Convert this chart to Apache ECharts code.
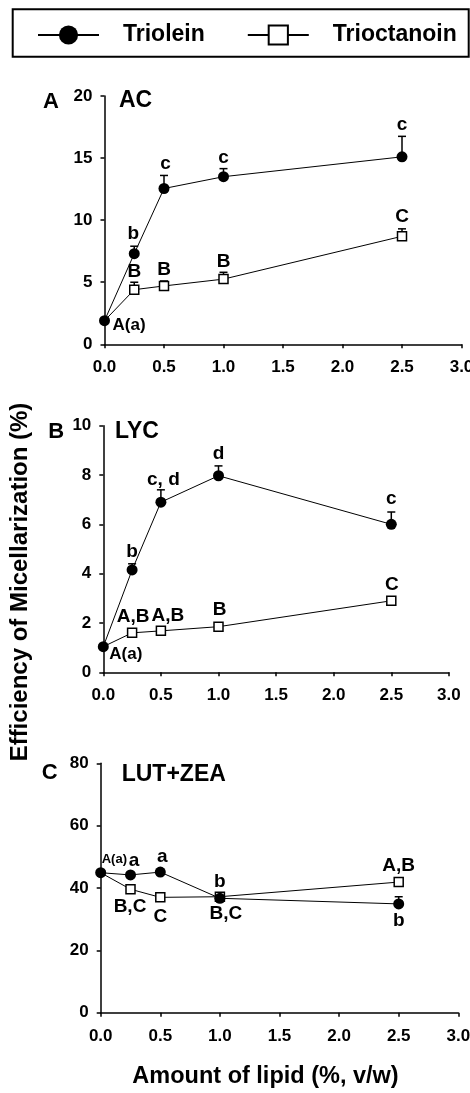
<!DOCTYPE html>
<html><head><meta charset="utf-8">
<script src="https://cdn.jsdelivr.net/npm/echarts@6/dist/echarts.min.js"></script>
<style>html,body{margin:0;padding:0;background:#fff}#c{width:470px;height:1093px}</style>
</head><body><div id="c"></div>
<script>
// ---------- data ----------
const lipid = [0, 0.25, 0.5, 1.0, 2.5];
const xTicks = ['0.0', '0.5', '1.0', '1.5', '2.0', '2.5', '3.0'];

// Panel A: AC
const acTriolein = [1.9, 7.3, 12.55, 13.5, 15.1];
const acTrioleinErr = [0, 0.6, 1.05, 0.65, 1.65];
const acTrioctanoin = [1.9, 4.4, 4.7, 5.25, 8.7];
const acTrioctanoinErr = [0, 0.6, 0.4, 0.55, 0.6];
const acTrioleinLabels = ['A(a)', 'b', 'c', 'c', 'c'];
const acTrioctanoinLabels = ['', 'B', 'B', 'B', 'C'];

// Panel B: LYC
const lycTriolein = [1.04, 4.15, 6.9, 7.97, 6.0];
const lycTrioleinErr = [0, 0.25, 0.5, 0.4, 0.5];
const lycTrioctanoin = [1.04, 1.6, 1.68, 1.85, 2.9];
const lycTrioctanoinErr = [0, 0, 0, 0, 0];
const lycTrioleinLabels = ['A(a)', 'b', 'c, d', 'd', 'c'];
const lycTrioctanoinLabels = ['', 'A,B', 'A,B', 'B', 'C'];

// Panel C: LUT+ZEA
const lutTriolein = [44.9, 44.2, 45.1, 36.7, 34.9];
const lutTrioleinErr = [0, 0, 0, 0, 2.3];
const lutTrioctanoin = [44.9, 39.6, 37.0, 37.2, 41.9];
const lutTrioctanoinErr = [0, 0, 0, 0, 0];
const lutTrioleinLabels = ['A(a)', 'a', 'a', 'b', 'b'];
const lutTrioctanoinLabels = ['', 'B,C', 'C', 'B,C', 'A,B'];

const panelLetters = ['A', 'B', 'C'];
const panelTitles = ['AC', 'LYC', 'LUT+ZEA'];
const yMax = [20, 10, 80];
const yStep = [5, 2, 20];

// ---------- styles / layout ----------
const FONT = "'Liberation Sans', Arial, Helvetica, sans-serif";
const grids = [
  { left: 104.5, top: 96, width: 357, height: 248.3 },
  { left: 103.3, top: 425.7, width: 345.6, height: 246.6 },
  { left: 100.7, top: 763.3, width: 357.6, height: 249.4 }
];
// the shared control point (0 %) is shown with the Triolein marker only
const octMarkerHidden = [true, false, false, false, false];
// label placement: from 'err' (top of error bar) or 'pt' (point), offsets in px
const placeA_tri = [
  { from: 'pt', dx: 8, dy: 5, align: 'left', size: 17 },
  { from: 'err', dx: -1, dy: -12 }, { from: 'err', dx: 1.5, dy: -12 },
  { from: 'err', dx: 0, dy: -11 }, { from: 'err', dx: 0, dy: -12 }
];
const placeA_oct = [
  null, { from: 'err', dx: 0, dy: -10 }, { from: 'err', dx: 0, dy: -11 },
  { from: 'err', dx: 0, dy: -11 }, { from: 'err', dx: 0, dy: -12 }
];
const placeB_tri = [
  { from: 'pt', dx: 6, dy: 7.5, align: 'left', size: 17 },
  { from: 'err', dx: 0, dy: -12 }, { from: 'err', dx: 2.5, dy: -10 },
  { from: 'err', dx: 0, dy: -12 }, { from: 'err', dx: 0, dy: -13 }
];
const placeB_oct = [
  null, { from: 'pt', dx: 1, dy: -16.5 }, { from: 'pt', dx: 7, dy: -15 },
  { from: 'pt', dx: 1, dy: -16.5 }, { from: 'pt', dx: 0.5, dy: -16.5 }
];
const placeC_tri = [
  { from: 'pt', dx: 1, dy: -13, align: 'left', size: 13 },
  { from: 'pt', dx: 3.5, dy: -14.5 }, { from: 'pt', dx: 2, dy: -15.5 },
  { from: 'pt', dx: 0, dy: -17 }, { from: 'pt', dx: 0, dy: 17 }
];
const placeC_oct = [
  null, { from: 'pt', dx: -0.5, dy: 17.5 }, { from: 'pt', dx: 0, dy: 19.5 },
  { from: 'pt', dx: 6, dy: 17.5 }, { from: 'pt', dx: 0, dy: -16 }
];

const panels = [
  { tri: acTriolein, triErr: acTrioleinErr, triLab: acTrioleinLabels, oct: acTrioctanoin, octErr: acTrioctanoinErr, octLab: acTrioctanoinLabels, pt: placeA_tri, po: placeA_oct },
  { tri: lycTriolein, triErr: lycTrioleinErr, triLab: lycTrioleinLabels, oct: lycTrioctanoin, octErr: lycTrioctanoinErr, octLab: lycTrioctanoinLabels, pt: placeB_tri, po: placeB_oct },
  { tri: lutTriolein, triErr: lutTrioleinErr, triLab: lutTrioleinLabels, oct: lutTrioctanoin, octErr: lutTrioctanoinErr, octLab: lutTrioctanoinLabels, pt: placeC_tri, po: placeC_oct }
];

function makeRender(labels, place) {
  return function (params, api) {
    const i = params.dataIndex;
    const x = api.value(0), y = api.value(1), e = api.value(2);
    const p = api.coord([x, y]);
    const t = api.coord([x, y + e]);
    const ch = [];
    if (e > 0) {
      ch.push({ type: 'line', shape: { x1: p[0], y1: p[1], x2: t[0], y2: t[1] }, style: { stroke: '#000', lineWidth: 1.5 } });
      ch.push({ type: 'line', shape: { x1: t[0] - 4, y1: t[1], x2: t[0] + 4, y2: t[1] }, style: { stroke: '#000', lineWidth: 1.5 } });
    }
    const pl = place[i];
    if (labels[i] && pl) {
      const a = pl.from === 'err' ? t : p;
      ch.push({
        type: 'text', x: a[0] + pl.dx, y: a[1] + pl.dy, z2: 10,
        style: { text: labels[i], fill: '#000', fontSize: pl.size || 19, fontWeight: 'bold', fontFamily: FONT, align: pl.align || 'center', verticalAlign: 'middle' }
      });
    }
    return { type: 'group', children: ch };
  };
}

const xAxis = [], yAxis = [], series = [];
panels.forEach((pn, k) => {
  xAxis.push({
    type: 'value', gridIndex: k, min: 0, max: 3, interval: 0.5,
    axisLine: { lineStyle: { color: '#000', width: 1.5 } },
    axisTick: { length: 4, lineStyle: { color: '#000', width: 1.5 } },
    splitLine: { show: false },
    axisLabel: { margin: 15, color: '#000', fontSize: 17, fontWeight: 'bold', fontFamily: FONT, formatter: v => xTicks[Math.round(v / 0.5)] }
  });
  yAxis.push({
    type: 'value', gridIndex: k, min: 0, max: yMax[k], interval: yStep[k],
    axisLine: { show: true, lineStyle: { color: '#000', width: 1.5 } },
    axisTick: { show: true, length: 4, lineStyle: { color: '#000', width: 1.5 } },
    splitLine: { show: false },
    axisLabel: { margin: 12, color: '#000', fontSize: 17, fontWeight: 'bold', fontFamily: FONT }
  });
  series.push({
    type: 'custom', xAxisIndex: k, yAxisIndex: k, z: 1, clip: false, silent: true,
    renderItem: makeRender(pn.octLab, pn.po),
    data: lipid.map((x, i) => [x, pn.oct[i], pn.octErr[i]])
  });
  series.push({
    type: 'custom', xAxisIndex: k, yAxisIndex: k, z: 1, clip: false, silent: true,
    renderItem: makeRender(pn.triLab, pn.pt),
    data: lipid.map((x, i) => [x, pn.tri[i], pn.triErr[i]])
  });
  series.push({
    name: 'Trioctanoin', type: 'line', xAxisIndex: k, yAxisIndex: k, z: 2, clip: false,
    data: lipid.map((x, i) => octMarkerHidden[i] ? { value: [x, pn.oct[i]], symbolSize: 0 } : [x, pn.oct[i]]),
    symbol: 'rect', symbolSize: 9, showAllSymbol: true,
    itemStyle: { color: '#fff', borderColor: '#000', borderWidth: 1.5 },
    lineStyle: { color: '#000', width: 1 }
  });
  series.push({
    name: 'Triolein', type: 'line', xAxisIndex: k, yAxisIndex: k, z: 3, clip: false,
    data: lipid.map((x, i) => [x, pn.tri[i]]),
    symbol: 'circle', symbolSize: 11,
    itemStyle: { color: '#000' },
    lineStyle: { color: '#000', width: 1 }
  });
});

const titleGraphics = [];
const letterPos = [[43, 101.7], [48.3, 431.7], [41.7, 773]];
const titlePos = [[119, 100.7], [115, 431.7], [121.7, 775]];
panelLetters.forEach((L, k) => {
  titleGraphics.push({ type: 'text', x: letterPos[k][0], y: letterPos[k][1], style: { text: L, fill: '#000', fontSize: 22, fontWeight: 'bold', fontFamily: FONT, align: 'left', verticalAlign: 'middle' } });
  titleGraphics.push({ type: 'text', x: titlePos[k][0], y: titlePos[k][1], style: { text: panelTitles[k], fill: '#000', fontSize: 23, fontWeight: 'bold', fontFamily: FONT, align: 'left', verticalAlign: 'middle' } });
});

const chart = echarts.init(document.getElementById('c'), null, { renderer: 'canvas' });
chart.setOption({
  animation: false,
  backgroundColor: '#fff',
  grid: grids.map(g => Object.assign({ containLabel: false, outerBoundsMode: 'none' }, g)),
  xAxis, yAxis, series,
  legend: {
    data: ['Triolein', 'Trioctanoin'], left: 32, top: 18.5, itemWidth: 61, itemHeight: 24, itemGap: 42,
    selectedMode: false,
    lineStyle: { width: 2 },
    textStyle: { fontSize: 23, fontWeight: 'bold', color: '#000', fontFamily: FONT, padding: [0, 0, 0, 19] }
  },
  graphic: [
    { type: 'rect', shape: { x: 12.7, y: 9.3, width: 456, height: 47.4 }, style: { fill: 'none', stroke: '#000', lineWidth: 2 } },
    { type: 'text', x: 20, y: 582, rotation: Math.PI / 2, style: { text: 'Efficiency of Micellarization (%)', fill: '#000', fontSize: 24, fontWeight: 'bold', fontFamily: FONT, align: 'center', verticalAlign: 'middle' } },
    { type: 'text', x: 265.5, y: 1077, style: { text: 'Amount of lipid (%, v/w)', fill: '#000', fontSize: 23.5, fontWeight: 'bold', fontFamily: FONT, align: 'center', verticalAlign: 'middle' } }
  ].concat(titleGraphics)
});
</script></body></html>
